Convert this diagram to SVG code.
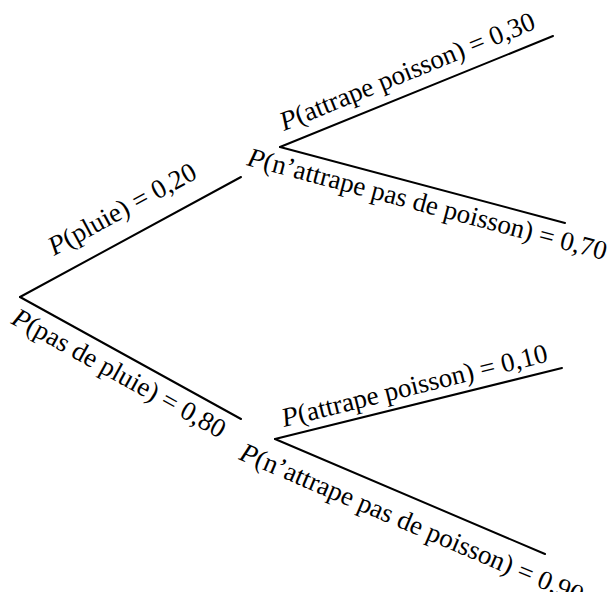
<svg xmlns="http://www.w3.org/2000/svg" width="610" height="592" viewBox="0 0 610 592">
<style>
.e{stroke:#000;stroke-width:2;fill:none;stroke-linecap:round}
.t{font-family:"Liberation Serif","Times New Roman",serif;font-size:27px;fill:#000}
.i{font-style:italic}
</style>
<rect width="610" height="592" fill="#fff"/>
<g id="connectors">
<line class="e" x1="20" y1="297" x2="241" y2="177"/>
<line class="e" x1="20" y1="297" x2="241" y2="419"/>
<line class="e" x1="280" y1="147" x2="553" y2="36"/>
<line class="e" x1="280" y1="147" x2="565" y2="223"/>
<line class="e" x1="275" y1="439" x2="562" y2="368"/>
<line class="e" x1="275" y1="439" x2="545" y2="554"/>
</g>
<g id="label-pluie"><text class="t" transform="translate(54,256) rotate(-28.5)"><tspan class="i">P</tspan>(pluie) = 0,20</text></g>
<g id="label-pas-pluie"><text class="t" transform="translate(10,323) rotate(28.9)"><tspan class="i">P</tspan>(pas de pluie) = 0,80</text></g>
<g id="label-attrape-1"><text class="t" transform="translate(284,131) rotate(-22.1)"><tspan class="i">P</tspan>(attrape poisson) = 0,30</text></g>
<g id="label-nattrape-1"><text class="t" transform="translate(246,165) rotate(14.9)"><tspan class="i">P</tspan>(n’attrape pas de poisson) = 0,70</text></g>
<g id="label-attrape-2"><text class="t" transform="translate(284,427) rotate(-13.9)"><tspan class="i">P</tspan>(attrape poisson) = 0,10</text></g>
<g id="label-nattrape-2"><text class="t" transform="translate(238,459) rotate(23.1)"><tspan class="i">P</tspan>(n’attrape pas de poisson) = 0,90</text></g>
</svg>
